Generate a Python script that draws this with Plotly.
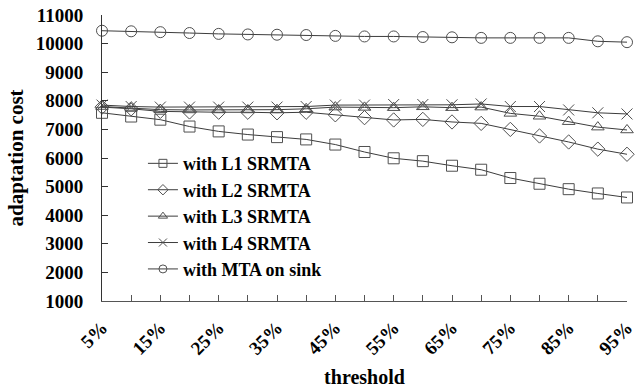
import plotly.graph_objects as go

thresholds = [5, 10, 15, 20, 25, 30, 35, 40, 45, 50, 55, 60, 65, 70, 75, 80, 85, 90, 95]
tick_labels = [f"<b>{t}%</b>" if t % 10 == 5 else "" for t in thresholds]
y_ticks = [1000, 2000, 3000, 4000, 5000, 6000, 7000, 8000, 9000, 10000, 11000]
y_tick_labels = [f"<b>{v}</b>" for v in y_ticks]

l1_srmta = [7580, 7450, 7340, 7100, 6930, 6820, 6730, 6650, 6470, 6210, 5990, 5890, 5730, 5590, 5300, 5100, 4910, 4760, 4620]
l2_srmta = [7780, 7720, 7630, 7610, 7600, 7600, 7580, 7600, 7510, 7410, 7330, 7350, 7260, 7210, 7000, 6770, 6560, 6310, 6130]
l3_srmta = [7800, 7740, 7690, 7680, 7680, 7680, 7690, 7720, 7780, 7770, 7760, 7790, 7760, 7780, 7560, 7460, 7270, 7080, 6980]
l4_srmta = [7850, 7800, 7780, 7780, 7780, 7780, 7780, 7800, 7850, 7850, 7870, 7870, 7860, 7890, 7800, 7800, 7680, 7580, 7540]
mta_sink = [10450, 10430, 10400, 10370, 10340, 10320, 10310, 10300, 10270, 10250, 10250, 10230, 10220, 10200, 10200, 10200, 10200, 10080, 10050]

series = [
    ("with L1 SRMTA", l1_srmta, "square-open"),
    ("with L2 SRMTA", l2_srmta, "diamond-open"),
    ("with L3 SRMTA", l3_srmta, "triangle-up-open"),
    ("with L4 SRMTA", l4_srmta, "x-thin-open"),
    ("with MTA on sink", mta_sink, "circle-open"),
]

FONT = "Liberation Serif"
LINE = "#3c3c3c"
MARK = "#505050"

fig = go.Figure()
for name, vals, sym in series:
    fig.add_trace(go.Scatter(
        x=thresholds, y=vals, name=name, mode="lines+markers",
        line=dict(color=LINE, width=1),
        marker=dict(symbol=sym, size=11, color=MARK, line=dict(width=1, color=MARK)),
        cliponaxis=False, showlegend=False,
    ))
# legend-only entries with smaller symbols
for name, vals, sym in series:
    fig.add_trace(go.Scatter(
        x=[None], y=[None], name=f"<b>{name}</b>", mode="lines+markers",
        line=dict(color=LINE, width=1),
        marker=dict(symbol=sym, size=8, color=MARK, line=dict(width=1, color=MARK)),
        showlegend=True,
    ))

fig.update_layout(
    width=640, height=390,
    margin=dict(l=102, r=13, t=15, b=89),
    paper_bgcolor="white", plot_bgcolor="white",
    font=dict(family=FONT, size=18, color="black"),
    showlegend=True,
    legend=dict(
        x=0.078, y=0.545, xanchor="left", yanchor="top",
        bgcolor="rgba(0,0,0,0)",
        font=dict(family=FONT, size=18, color="black"),
        itemwidth=30, tracegroupgap=0,
    ),
    xaxis=dict(
        range=[5, 95], tickmode="array", tickvals=thresholds, ticktext=tick_labels,
        tickangle=-45, ticks="inside", ticklen=6, tickcolor="#555",
        showline=True, linecolor="#555", linewidth=1, showgrid=False, zeroline=False,
        tickfont=dict(family=FONT, size=19, color="black"),
        ticklabelstandoff=7, automargin=False,
        title=dict(text="<b>threshold</b>", standoff=12,
                   font=dict(family=FONT, size=20, color="black")),
    ),
    yaxis=dict(
        range=[1000, 11000], tickmode="array", tickvals=y_ticks, ticktext=y_tick_labels,
        ticks="inside", ticklen=6, tickcolor="#333",
        showline=True, linecolor="#333", linewidth=1, showgrid=False, zeroline=False,
        tickfont=dict(family=FONT, size=19, color="black"),
        ticklabelstandoff=14, automargin=False,
        title=dict(text="<b>adaptation cost</b>", standoff=6,
                   font=dict(family=FONT, size=21, color="black")),
    ),
)

fig.write_html("out.html")
